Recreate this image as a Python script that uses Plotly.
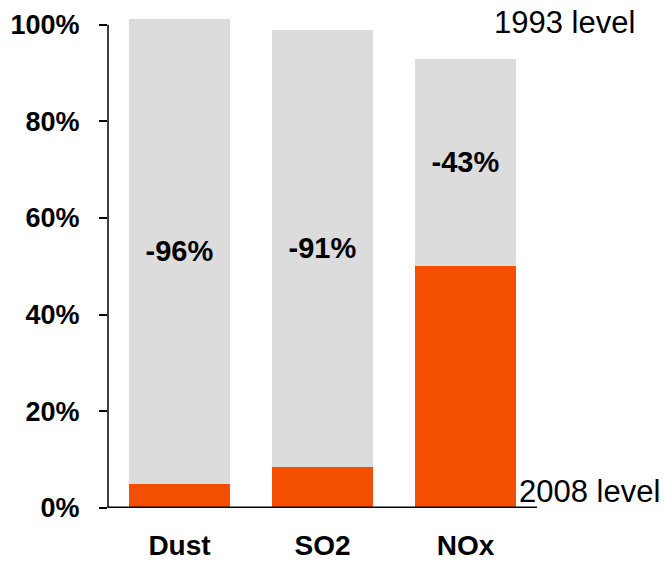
import plotly.graph_objects as go

categories = ["Dust", "SO2", "NOx"]
level_1993 = [101.2, 99.0, 93.0]
level_2008 = [5.0, 8.5, 50.0]
change_labels = ["-96%", "-91%", "-43%"]
y_ticks = [0, 20, 40, 60, 80, 100]

gap_values = [a - b for a, b in zip(level_1993, level_2008)]

ORANGE = "#F25000"
GRAY = "#DCDCDC"
FONT = "Liberation Sans, Arial, sans-serif"

fig = go.Figure()
fig.add_trace(go.Bar(
    x=categories, y=level_2008, marker=dict(color=ORANGE, line=dict(width=0)),
    width=0.71, showlegend=False, hoverinfo="skip"))
fig.add_trace(go.Bar(
    x=categories, y=gap_values, marker=dict(color=GRAY, line=dict(width=0)),
    width=0.71, text=change_labels, textposition="inside", insidetextanchor="middle",
    textangle=0, constraintext="none",
    textfont=dict(family=FONT, size=29, color="black", weight="bold"),
    showlegend=False, hoverinfo="skip"))

fig.update_layout(
    width=665, height=563,
    margin=dict(l=108, r=128, t=15, b=55, autoexpand=False),
    barmode="stack",
    plot_bgcolor="white", paper_bgcolor="white",
    font=dict(family=FONT, color="black"),
    xaxis=dict(range=[-0.5, 2.5], showline=False, showgrid=False, zeroline=False,
               automargin=False, ticks="", ticklabelstandoff=18,
               tickfont=dict(family=FONT, size=28, color="black", weight="bold")),
    yaxis=dict(range=[0, 102], showline=False, showgrid=False, zeroline=False,
               automargin=False,
               tickvals=y_ticks, ticktext=[f"{v}%" for v in y_ticks],
               ticks="outside", ticklen=8, tickwidth=1.5, tickcolor="black",
               ticklabelstandoff=14,
               tickfont=dict(family=FONT, size=27, color="black", weight="bold")),
    shapes=[
        dict(type="line", xref="paper", yref="y", x0=0, x1=0, y0=0, y1=100,
             line=dict(color="black", width=1.5)),
        dict(type="line", xref="paper", yref="y", x0=0, x1=1, y0=0, y1=0,
             line=dict(color="black", width=3)),
    ],
    annotations=[
        dict(text="1993 level", xref="paper", yref="paper", x=1.064, y=0.984,
             xanchor="center", yanchor="middle", showarrow=False,
             font=dict(family=FONT, size=31, color="black")),
        dict(text="2008 level", xref="paper", yref="y", x=1.123, y=3.5,
             xanchor="center", yanchor="middle", showarrow=False,
             font=dict(family=FONT, size=31, color="black")),
    ],
)

fig.write_html("out.html", config={"displayModeBar": False})

with open("out.html", "r", encoding="utf-8") as f:
    html = f.read()
html = html.replace("<head>", "<head><style>html,body{margin:0;padding:0;overflow:hidden;}</style>", 1)
with open("out.html", "w", encoding="utf-8") as f:
    f.write(html)
